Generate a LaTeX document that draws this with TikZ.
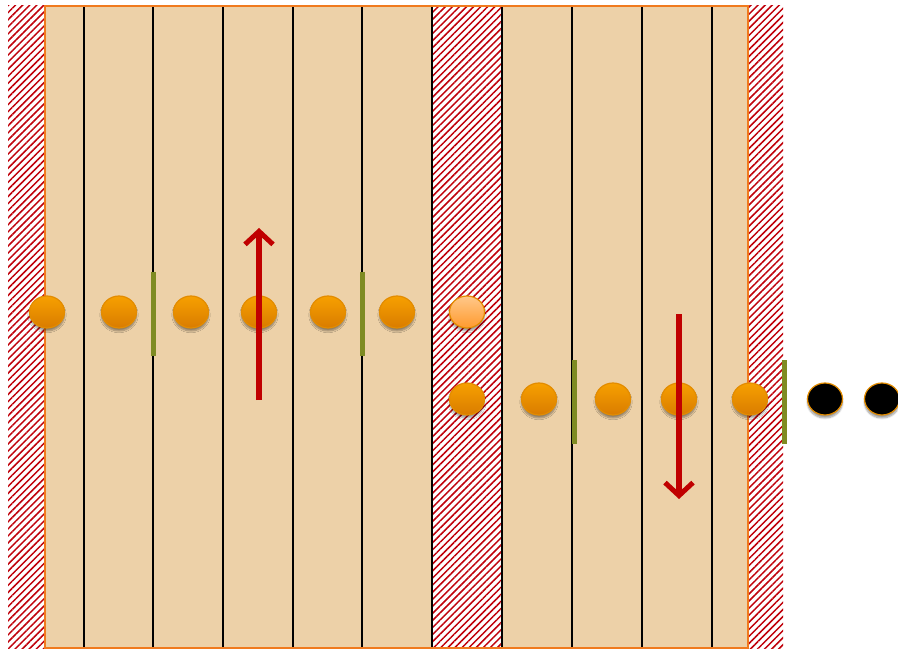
\documentclass[tikz,border=0pt]{standalone}
\usepackage{xcolor}
\usepackage{tikz}
\usetikzlibrary{arrows.meta,patterns.meta,shapes.geometric,shadows.blur}
\definecolor{sand}{HTML}{EDD1A8}
\definecolor{rim}{HTML}{F07A1E}
\definecolor{hatch}{HTML}{C0000A}
\definecolor{ballhi}{HTML}{F7A000}
\definecolor{balllo}{HTML}{D97C00}
\definecolor{ballrim}{HTML}{E38C00}
\definecolor{ghosthi}{HTML}{FFC88A}
\definecolor{ghostlo}{HTML}{FF9A2E}
\definecolor{wall}{HTML}{7F8B22}
\definecolor{flow}{HTML}{C00000}

\begin{document}
\begin{tikzpicture}[
    x=1pt, y=-1pt,
    hatched/.style={pattern={Lines[angle=45,distance=5pt,line width=1.5pt]},
                    pattern color=hatch},
    bead/.style={ellipse, minimum width=35pt, minimum height=32pt, inner sep=0pt,
                 line width=1.2pt,
                 blur shadow={shadow xshift=0pt, shadow yshift=-3pt, shadow blur steps=6}},
    ball/.style={bead, draw=ballrim, top color=ballhi, bottom color=balllo},
    ghost/.style={bead, draw=ballrim, top color=ghosthi, bottom color=ghostlo},
    hole/.style={bead, draw=ballrim, fill=black},
    cell/.style={draw=black, line width=2pt},
    wallbar/.style={draw=wall, line width=5pt},
    flowarrow/.style={draw=flow, line width=5.5pt,
                      -{Straight Barb[length=13pt,width=28pt,line width=5pt]}}
]
\useasboundingbox (0,0) rectangle (898,650);

% hatched edges
\fill[white] (8,6) rectangle (783,648);
\fill[hatched] (8,6) rectangle (45,648);
\fill[hatched] (748,6) rectangle (783,648);

% main strip
\fill[sand] (45,6) rectangle (748,648);
\fill[white] (432,6) rectangle (502,648);
\fill[hatched] (432,6) rectangle (502,648);
\foreach \x in {84,153,223,293,362,432,502,572,642,712}
  \draw[cell] (\x,6) -- (\x,648);
\draw[rim, line width=2pt] (45,6) rectangle (748,648);

% walls
\draw[wallbar] (153,272) -- (153,356);
\draw[wallbar] (362,272) -- (362,356);
\draw[wallbar] (574,360) -- (574,444);
\draw[wallbar] (784,360) -- (784,444);

% upper row
\foreach \x [count=\i] in {47,119,191,259,328,397}
  \node[ball] (b\i) at (\x,312) {};
\node[ghost] (b7) at (467,312) {};

% lower row
\foreach \x [count=\i] in {467,539,613,679,750}
  \node[ball] (c\i) at (\x,399) {};
\node[hole] (c6) at (825,399) {};
\node[hole] (c7) at (882,399) {};

% flow arrows
\coordinate (upfrom) at (259,400);
\coordinate (upto) at (259,228);
\coordinate (downfrom) at (679,314);
\coordinate (downto) at (679,499);
\draw[flowarrow] (upfrom) -- (upto);
\draw[flowarrow] (downfrom) -- (downto);

\end{tikzpicture}
\end{document}
